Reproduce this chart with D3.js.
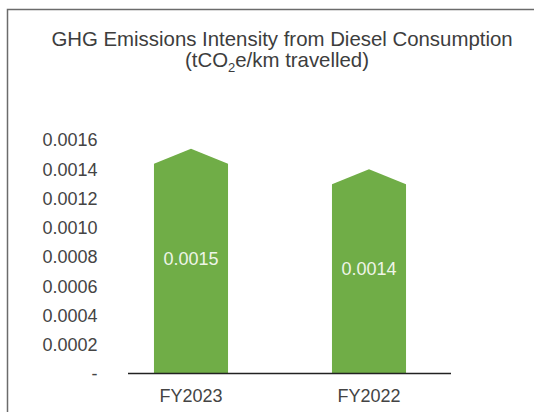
<!DOCTYPE html>
<html>
<head>
<meta charset="utf-8">
<script src="https://cdn.jsdelivr.net/npm/d3@7"></script>
<style>
  html, body { margin: 0; padding: 0; background: #fff; }
  text { font-family: "Liberation Sans", Arial, sans-serif; }
</style>
</head>
<body>
<div id="chart"></div>
<script>
// chart data
const categories = ["FY2023", "FY2022"];
const values = [0.00154, 0.0014];
const yTicks = [0, 0.0002, 0.0004, 0.0006, 0.0008, 0.001, 0.0012, 0.0014, 0.0016];
const titleLines = ["GHG Emissions Intensity from Diesel Consumption"];

const width = 534, height = 412;
const green = "#70ad47";
const tip = 15; // height of the arrow point on top of each bar

const svg = d3.select("#chart")
  .append("svg")
  .attr("width", width)
  .attr("height", height);

// frame (only top and left edges are visible)
svg.append("path")
  .attr("d", "M7.5,420 V9.5 H540")
  .attr("fill", "none")
  .attr("stroke", "#6b6b6b")
  .attr("stroke-width", 1.5);

// title
svg.append("text")
  .attr("x", 282)
  .attr("y", 46)
  .attr("text-anchor", "middle")
  .attr("font-size", 20.4)
  .attr("fill", "#3d3d3d")
  .text(titleLines[0]);

const sub = svg.append("text")
  .attr("x", 277)
  .attr("y", 67)
  .attr("text-anchor", "middle")
  .attr("font-size", 20.4)
  .attr("fill", "#3d3d3d");
sub.append("tspan").text("(tCO");
sub.append("tspan").attr("font-size", 13).attr("dy", 5).text("2");
sub.append("tspan").attr("dy", -5).text("e/km travelled)");

// scales
const y = d3.scaleLinear().domain([0, 0.0016]).range([374, 140]);
const x = d3.scaleBand()
  .domain(categories)
  .range([102, 458])
  .paddingInner(0.584)
  .paddingOuter(0.292);

const fmt = d3.format(".4f");

// y tick labels
svg.append("g")
  .selectAll("text")
  .data(yTicks)
  .enter()
  .append("text")
  .attr("x", 97.5)
  .attr("y", (d) => y(d))
  .attr("dy", "0.35em")
  .attr("text-anchor", "end")
  .attr("font-size", 18)
  .attr("fill", "#444")
  .text((d) => (d === 0 ? "-" : fmt(d)));

// bars with arrow-shaped tops
svg.append("g")
  .selectAll("path")
  .data(categories)
  .enter()
  .append("path")
  .attr("fill", green)
  .attr("d", function (d, i) {
    const x0 = x(d), x1 = x(d) + x.bandwidth(), xm = x(d) + x.bandwidth() / 2;
    const top = y(values[i]);
    return `M${x0},${y(0)} V${top + tip} L${xm},${top} L${x1},${top + tip} V${y(0)} Z`;
  });

// x axis line
svg.append("line")
  .attr("x1", 128)
  .attr("x2", 451)
  .attr("y1", 373.5)
  .attr("y2", 373.5)
  .attr("stroke", "#222")
  .attr("stroke-width", 1.5);

// value labels inside bars
svg.append("g")
  .selectAll("text")
  .data(categories)
  .enter()
  .append("text")
  .attr("x", (d) => x(d) + x.bandwidth() / 2)
  .attr("y", (d, i) => y(values[i] / 2) - 3)
  .attr("dy", "0.35em")
  .attr("text-anchor", "middle")
  .attr("font-size", 18)
  .attr("fill", "#eef5e8")
  .text((d, i) => fmt(values[i]));

// category labels
svg.append("g")
  .selectAll("text")
  .data(categories)
  .enter()
  .append("text")
  .attr("x", (d) => x(d) + x.bandwidth() / 2)
  .attr("y", 402)
  .attr("text-anchor", "middle")
  .attr("font-size", 18)
  .attr("fill", "#444")
  .text((d) => d);
</script>
</body>
</html>
